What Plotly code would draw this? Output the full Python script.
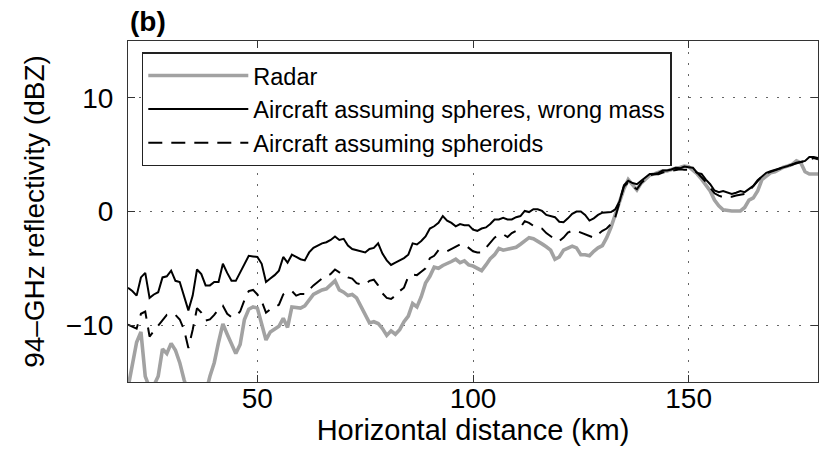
import plotly.graph_objects as go

# Horizontal distance (km), 1-km sampling from 20 to 180 km
distance_km = list(range(20, 181))

# Radar 94-GHz reflectivity (dBZ)
radar_dbz = [
    -15.5, -13.5, -11.5, -10.6, -14.5, -15.5, -15.3, -14.5, -12.1, -12.5,
    -11.6, -12.2, -13.3, -14.8, -16.0, -15.3, -15.5, -16.0, -16.0, -14.5,
    -13.3, -11.5, -9.9, -10.8, -11.7, -12.5, -11.7, -9.5, -8.6, -8.4,
    -8.5, -9.9, -11.3, -10.6, -10.3, -10.1, -9.4, -10.2, -8.4, -8.45,
    -8.5, -8.3, -7.8, -7.3, -7.1, -6.9, -6.8, -6.5, -6.1, -6.9,
    -7.1, -7.4, -7.3, -7.6, -8.3, -9.0, -9.8, -9.7, -9.85, -10.3,
    -10.9, -10.5, -10.8, -10.4, -9.7, -9.2, -8.1, -8.4, -7.5, -6.3,
    -5.7, -4.9, -5.0, -4.75, -4.6, -4.4, -4.2, -4.5, -4.35, -4.7,
    -4.8, -5.0, -5.2, -4.7, -4.15, -3.8, -3.25, -3.4, -3.3, -3.17,
    -3.15, -2.88, -2.6, -2.3, -2.4, -2.6, -2.85, -3.1, -3.4, -4.2,
    -4.0, -3.4, -3.2, -3.05, -3.2, -3.8, -3.8, -3.9, -3.5, -3.2,
    -3.0, -2.3, -1.4, -0.3, 0.8, 2.0, 2.8, 2.3, 1.9, 2.5,
    2.9, 3.2, 3.3, 3.45, 3.57, 3.57, 3.7, 3.8, 3.87, 4.0,
    3.95, 3.6, 3.3, 2.84, 2.35, 1.8, 1.0, 0.5, 0.15, 0.06,
    0.05, 0.05, 0.05, 0.35, 1.0, 1.2, 1.8, 2.8, 3.1, 3.4,
    3.5, 3.7, 3.9, 4.0, 4.15, 4.45, 4.3, 3.5, 3.3, 3.3,
    3.3,
]

# Aircraft, assuming spheres with wrong mass (dBZ)
spheres_dbz = [
    -6.7, -7.0, -7.4, -5.8, -5.4, -7.6, -7.3, -7.1, -5.8, -5.7,
    -5.2, -6.1, -6.2, -7.4, -8.7, -7.4, -5.1, -5.5, -6.5, -6.5,
    -6.2, -6.2, -4.6, -5.4, -6.1, -6.1, -5.4, -4.6, -3.9, -3.95,
    -4.0, -4.6, -6.2, -5.9, -5.6, -5.2, -4.0, -4.5, -3.8, -4.0,
    -4.2, -4.3, -3.6, -3.2, -3.0, -2.8, -2.7, -2.5, -2.2, -2.5,
    -2.4, -3.0, -3.3, -3.4, -3.5, -3.6, -3.3, -3.2, -2.8, -3.7,
    -4.3, -4.7, -4.5, -4.3, -4.1, -3.8, -2.8, -2.9, -2.6, -2.2,
    -1.5, -1.3, -1.0, -0.4, -0.8, -1.0, -1.3, -1.1, -1.2, -1.2,
    -1.6, -1.7, -1.5, -1.4, -1.1, -0.7, -0.7, -0.55, -0.7, -0.7,
    -0.5, -0.4, 0.05, -0.05, 0.2, 0.2, 0.05, -0.3, -0.4, -0.5,
    -0.9, -0.95, -0.6, -0.2, 0.0, 0.0, -0.3, -0.8, -0.6, -0.3,
    -0.1, -0.1, -0.05, 0.2, 0.9, 2.3, 2.7, 2.5, 2.4, 2.7,
    3.0, 3.3, 3.3, 3.4, 3.6, 3.6, 3.7, 3.85, 3.8, 3.95,
    3.9, 3.85, 3.4, 3.3, 2.8, 2.4, 1.85, 1.7, 1.8, 1.7,
    1.55, 1.65, 1.8, 1.7, 1.95, 2.25, 2.75, 3.1, 3.4, 3.55,
    3.65, 3.8, 3.9, 4.0, 4.15, 4.3, 4.35, 4.45, 4.8, 4.8,
    4.7,
]

# Aircraft, assuming spheroids (dBZ)
spheroids_dbz = [
    -9.95, -10.1, -10.3, -9.0, -8.8, -11.0, -10.5, -10.1, -9.5, -9.1,
    -9.2, -9.1, -9.5, -10.4, -12.0, -10.4, -8.5, -8.9, -9.6, -9.5,
    -9.1, -8.6, -8.3, -9.0, -9.3, -9.2, -8.8, -7.8, -7.0, -6.9,
    -7.3, -7.9, -8.9, -8.6, -8.45, -8.2, -7.3, -7.1, -7.0, -7.4,
    -7.25, -7.27, -6.9, -6.5, -6.2, -5.9, -5.7, -5.5, -5.1, -5.35,
    -5.5, -5.8, -5.9, -6.3, -6.4, -6.4, -6.1, -6.0, -6.5, -7.2,
    -7.6, -7.7, -7.4, -7.0, -6.7, -5.7, -5.55, -5.6, -5.3, -5.0,
    -4.1, -3.9, -3.4, -3.5, -3.5, -3.3, -3.15, -2.9, -2.9, -3.2,
    -3.5, -3.6, -3.6, -3.2, -2.7, -2.3, -2.05, -2.0, -2.25, -1.9,
    -1.7, -1.4, -0.85, -1.0, -1.26, -1.4, -1.5, -1.9, -2.2, -2.45,
    -2.6, -2.3, -1.85, -1.7, -1.7, -1.85, -2.0, -2.15, -2.3, -2.0,
    -1.7, -1.5, -1.1, -0.5, 0.8, 2.2, 2.55, 2.2, 1.96, 2.5,
    2.85, 3.2, 3.28, 3.28, 3.43, 3.5, 3.57, 3.7, 3.72, 3.68,
    3.66, 3.65, 3.4, 3.0, 2.6, 2.1, 1.6, 1.4, 1.25, 1.3,
    1.3, 1.4, 1.5, 1.55, 1.8, 2.25, 2.7, 3.1, 3.35, 3.5,
    3.6, 3.75, 3.87, 4.0, 4.15, 4.25, 4.35, 4.45, 4.6, 4.7,
    4.6,
]

x_tick_values = [50, 100, 150]
y_tick_values = [-10, 0, 10]

series_names = [
    "Radar",
    "Aircraft assuming spheres, wrong mass",
    "Aircraft assuming spheroids",
]

FONT = "Liberation Sans, Arial, Helvetica, sans-serif"

fig = go.Figure()
fig.add_trace(go.Scatter(
    x=distance_km, y=radar_dbz, mode="lines", name=series_names[0],
    line=dict(color="#a2a2a2", width=3.6),
))
fig.add_trace(go.Scatter(
    x=distance_km, y=spheres_dbz, mode="lines", name=series_names[1],
    line=dict(color="#000000", width=2),
))
fig.add_trace(go.Scatter(
    x=distance_km, y=spheroids_dbz, mode="lines", name=series_names[2],
    line=dict(color="#000000", width=2, dash="14px,9px"),
))

axis_common = dict(
    showline=True, linecolor="#333333", linewidth=1.2, mirror="ticks",
    ticks="inside", ticklen=7, tickwidth=1, tickcolor="#333333",
    showgrid=True, gridcolor="#666666", gridwidth=1, griddash="2px,9px",
    zeroline=False, tickfont=dict(size=28, color="black", family=FONT),
)

fig.update_layout(
    width=819, height=462,
    margin=dict(l=128, r=1, t=41, b=80),
    paper_bgcolor="white", plot_bgcolor="white",
    font=dict(family=FONT, color="black", size=28),
    showlegend=True,
    legend=dict(
        x=0.02, y=0.967, xanchor="left", yanchor="top",
        bordercolor="#222222", borderwidth=1.5, bgcolor="white",
        font=dict(size=23.5, family=FONT, color="black"),
        itemwidth=100, tracegroupgap=0,
    ),
    xaxis=dict(
        range=[20, 180], tickvals=x_tick_values,
        title=dict(text="Horizontal distance (km)", font=dict(size=29, family=FONT), standoff=3),
        ticklabelstandoff=-9,
        **axis_common,
    ),
    yaxis=dict(
        range=[-15, 15], tickvals=y_tick_values,
        title=dict(text="94–GHz reflectivity (dBZ)", font=dict(size=28, family=FONT), standoff=12),
        ticklabelstandoff=8,
        **axis_common,
    ),
    annotations=[dict(
        text="<b>(b)</b>", x=0, y=1, xref="paper", yref="paper",
        xanchor="left", yanchor="bottom", showarrow=False,
        font=dict(size=28, family=FONT, color="black"), yshift=2,
    )],
)

fig.write_html("out.html")
